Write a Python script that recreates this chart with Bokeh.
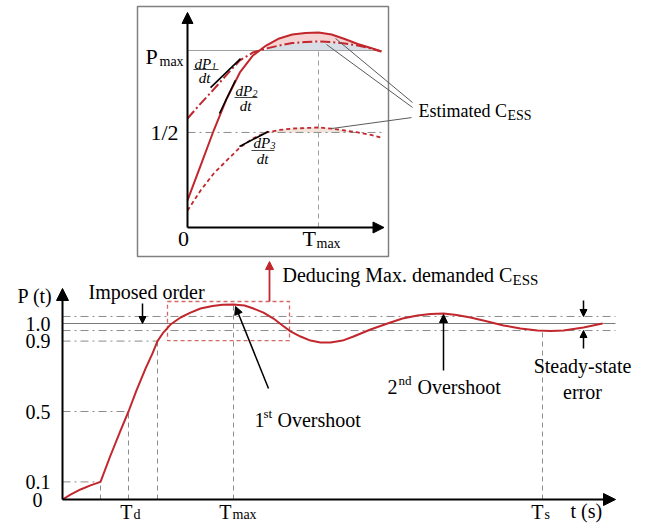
from bokeh.plotting import figure
from bokeh.models import Range1d, Arrow, NormalHead
from bokeh.core.properties import value
from bokeh.embed import file_html
from bokeh.resources import INLINE

# ---------------- data: main step response P(t) ----------------
t_main = [0.0, 0.16, 0.36, 0.56, 0.76, 0.96, 1.16, 1.32, 1.48, 1.66, 1.80, 1.90,
          2.02, 2.16, 2.36, 2.56, 2.76, 3.00, 3.20, 3.42, 3.64, 3.82, 4.02, 4.22,
          4.40, 4.56, 4.76, 4.96, 5.16, 5.36, 5.60, 5.82, 6.16, 6.50, 6.80, 7.10,
          7.36, 7.62, 7.88, 8.16, 8.50, 8.82, 9.16, 9.50, 9.76, 10.02, 10.42, 10.80]
p_main = [0.0, 0.028, 0.057, 0.080, 0.10, 0.25, 0.392, 0.50, 0.62, 0.744, 0.83, 0.90,
          0.95, 0.994, 1.034, 1.062, 1.085, 1.099, 1.106, 1.108, 1.102, 1.085, 1.062, 1.028,
          0.989, 0.955, 0.926, 0.903, 0.892, 0.892, 0.903, 0.926, 0.966, 1.0, 1.028, 1.045,
          1.054, 1.057, 1.048, 1.034, 1.011, 0.989, 0.972, 0.960, 0.957, 0.960, 0.977, 1.0]

level_vals = [0.1, 0.5, 0.9]          # dash-dot guide levels
level_t = [0.76, 1.32, 1.90]          # where the curve reaches them
p_ref = 1.0
band_hi, band_lo = 1.04, 0.96
T_d, T_max, T_s = 1.32, 3.42, 9.60
p_peak, p_at_ts = 1.108, 0.96
t_axis_end, p_axis_end = 11.06, 1.199
y_tick_vals = [0.0, 0.1, 0.5, 0.9, 1.0]
y_tick_labels = ["0", "0.1", "0.5", "0.9", "1.0"]

# ---------------- data: inset (normalised, Tmax = 1, Pmax = 1) ----------------
t_in = [0.0, 0.1, 0.2, 0.3, 0.4, 0.5, 0.6, 0.7, 0.8, 0.9, 1.0, 1.1, 1.2, 1.3, 1.4, 1.48]
p1_in = [0.616, 0.70, 0.78, 0.864, 0.944, 0.989, 1.011, 1.028, 1.042, 1.048, 1.051,
         1.048, 1.040, 1.028, 1.011, 0.994]
p2_in = [0.153, 0.350, 0.548, 0.729, 0.876, 0.972, 1.028, 1.068, 1.090, 1.099, 1.102,
         1.090, 1.065, 1.037, 1.014, 0.994]
p3_in = [0.096, 0.209, 0.305, 0.379, 0.452, 0.503, 0.537, 0.551, 0.559, 0.562, 0.565,
         0.559, 0.548, 0.537, 0.523, 0.508]
p_max_in, p_half_in = 1.0, 0.537
tan_t0 = [0.176, 0.244, 0.397]
tan_t1 = [0.405, 0.366, 0.618]
tan_p0 = [0.79, 0.644, 0.458]
tan_p1 = [0.954, 0.831, 0.542]

# ---------------- layout ----------------
RED = "#c1272d"
GRAY = "#8c8c8c"
FONT = value("Liberation Serif")
W, H, OX, OY = 646, 524, 0, 0
M_X0, M_Y0, M_SX, M_SY = 62, 499, 50, 176
I_X0, I_Y0, I_SX, I_SY = 187, 227, 131, 177


def xr(x0, sx):
    return Range1d(start=(OX - x0) / sx, end=(OX + W - x0) / sx)


def yr(y0, sy):
    return Range1d(start=(y0 - (OY + H)) / sy, end=(y0 - OY) / sy)


p = figure(width=W, height=H, output_backend="svg", toolbar_location=None, tools="",
           x_range=Range1d(OX, OX + W), y_range=Range1d(OY + H, OY),
           x_axis_location=None, y_axis_location=None, min_border=0,
           outline_line_color=None, background_fill_color="white",
           border_fill_color="white")
p.grid.visible = False
p.extra_x_ranges = {"mt": xr(M_X0, M_SX), "it": xr(I_X0, I_SX)}
p.extra_y_ranges = {"mp": yr(M_Y0, M_SY), "ip": yr(I_Y0, I_SY)}
M = dict(x_range_name="mt", y_range_name="mp")
I = dict(x_range_name="it", y_range_name="ip")


def txt(x, y, s, size=20, align="left", style="normal", xrn="default", yrn="default",
        xoff=0, yoff=0, color="black"):
    p.text(x=[x], y=[y], text=[s], text_font=FONT, text_font_size=f"{size}px",
           text_align=align, text_baseline="middle", text_font_style=style,
           text_color=color, x_offset=xoff, y_offset=yoff,
           x_range_name=xrn, y_range_name=yrn)


def arrow(x0, y0, x1, y1, rng, size=8, color="black", width=1.5):
    p.add_layout(Arrow(end=NormalHead(size=size, fill_color=color, line_color=color),
                       x_start=x0, y_start=y0, x_end=x1, y_end=y1,
                       line_color=color, line_width=width, **rng))


# ================= main chart =================
p.segment(x0=[0] * 3, y0=level_vals, x1=level_t, y1=level_vals, line_color=GRAY,
          line_width=1, line_dash="8 4 2 4", **M)
p.segment(x0=[0, 0], y0=[band_hi, band_lo], x1=[t_axis_end] * 2, y1=[band_hi, band_lo],
          line_color=GRAY, line_width=1, line_dash="8 4 2 4", **M)
p.segment(x0=[0], y0=[p_ref], x1=[t_axis_end], y1=[p_ref], line_color="#7a7a7a",
          line_width=1, **M)
vx = level_t + [T_max, T_s]
vy = level_vals + [p_peak, p_at_ts]
p.segment(x0=vx, y0=[0] * 5, x1=vx, y1=vy, line_color=GRAY, line_width=1,
          line_dash="5 4", **M)

# dashed box around first overshoot
p.quad(left=2.10, right=4.54, bottom=0.903, top=1.125, fill_color=None,
       line_color="#d26a6a", line_width=1.3, line_dash="4 3", **M)

# curve
p.line(t_main, p_main, line_color=RED, line_width=2, line_join="round", **M)

# axes
arrow(0, 0, 0, p_axis_end, M, size=12, width=2)
arrow(0, 0, t_axis_end, 0, M, size=12, width=2)

# annotation arrows
arrow(1.60, 1.114, 1.60, p_ref, M, size=7)
arrow(4.12, 0.631, 3.46, 1.097, M, size=8)
arrow(7.62, 0.733, 7.62, 1.051, M, size=8)
arrow(10.42, 1.131, 10.42, band_hi, M, size=7)
arrow(10.42, 0.858, 10.42, band_lo, M, size=7)
arrow(4.14, 1.125, 4.14, 1.352, M, size=8, color=RED, width=1.8)

# tick labels
for v, lab, xx in zip(y_tick_vals, y_tick_labels, [42, 50, 50, 50, 50]):
    txt(xx, v, lab, align="right", yrn="mp")
txt(17, 295, "P (t)")
txt(T_d, 511, "T", align="right", xrn="mt", xoff=4)
txt(T_d, 514, "d", size=14, xrn="mt", xoff=5)
txt(T_max, 511, "T", align="right", xrn="mt", xoff=-2)
txt(T_max, 514, "max", size=14, xrn="mt", xoff=-1)
txt(T_s, 511, "T", align="right", xrn="mt", xoff=1)
txt(T_s, 514, "s", size=14, xrn="mt", xoff=2)
txt(570, 510, "t (s)")

txt(88, 291, "Imposed order")
txt(282, 274, "Deducing Max. demanded C")
txt(512, 279, "ESS", size=15)
txt(254, 419, "1")
txt(263, 413, "st", size=13)
txt(277, 419, "Overshoot")
txt(387, 386, "2")
txt(398, 380, "nd", size=13)
txt(417, 386, "Overshoot")
txt(582, 365, "Steady-state", align="center")
txt(582, 391, "error", align="center")

# ================= inset =================
p.quad(left=137, right=388, top=6, bottom=256, fill_color=None, line_color="#808080",
       line_width=1.5)

p.varea(x=t_in[6:], y1=p1_in[6:], y2=p2_in[6:], fill_color="#f6d3d3", **I)
p.varea(x=t_in[6:15], y1=[p_max_in] * 9, y2=p1_in[6:15], fill_color="#d8dee6", **I)
p.varea(x=t_in[6:14], y1=[p_half_in] * 8, y2=p3_in[6:14], fill_color="#f2e4da", **I)

p.segment(x0=[0], y0=[p_max_in], x1=[1.48], y1=[p_max_in], line_color="#a0a0a0",
          line_width=1, **I)
p.segment(x0=[0], y0=[p_half_in], x1=[1.50], y1=[p_half_in], line_color=GRAY,
          line_width=1, line_dash="8 4 2 4", **I)
p.segment(x0=[1.0], y0=[0], x1=[1.0], y1=[p_max_in], line_color="#a0a0a0",
          line_width=1, line_dash="5 4", **I)

p.line(t_in, p2_in, line_color=RED, line_width=2, **I)
p.line(t_in, p1_in, line_color=RED, line_width=2, line_dash="10 3 2 3", **I)
p.line(t_in, p3_in, line_color=RED, line_width=1.8, line_dash="4 3", **I)

p.segment(x0=tan_t0, y0=tan_p0, x1=tan_t1, y1=tan_p1, line_color="black",
          line_width=1.6, **I)

arrow(0, 0, 0, 1.215, I, size=11, width=2)
arrow(0, 0, 1.50, 0, I, size=11, width=2)

# leader lines to "Estimated C_ESS"
p.segment(x0=[1.13, 1.061, 1.099], y0=[1.068, 1.034, 0.559],
          x1=[1.718, 1.718, 1.710], y1=[0.706, 0.678, 0.621],
          line_color="#5a5a5a", line_width=1, **I)
txt(418, 110, "Estimated C", size=18)
txt(507, 115, "ESS", size=14)

# inset labels
txt(145, 56, "P", size=22)
txt(159, 61, "max", size=14)
txt(178, p_half_in, "1/2", size=22, align="right", yrn="ip")
txt(183, 238, "0", size=22, align="center")
txt(302, 238, "T", size=22)
txt(316, 243, "max", size=14)

# derivative fractions
for (xl, yn, num, sub, bar0, bar1, ybar, xc, yd) in [
        (194, 63, "dP", "1", 193, 218, 69, 204, 77),
        (235, 90, "dP", "2", 234, 257, 97, 245, 105),
        (253, 142, "dP", "3", 251, 274, 150, 262, 158)]:
    txt(xl, yn, num, size=15, style="italic")
    txt(xl + 17, yn + 3, sub, size=10, style="italic")
    p.segment(x0=[bar0], y0=[ybar], x1=[bar1], y1=[ybar], line_color="#444444",
              line_width=1)
    txt(xc, yd, "dt", size=15, style="italic", align="center")

open("out.html", "w").write(file_html(p, INLINE))
